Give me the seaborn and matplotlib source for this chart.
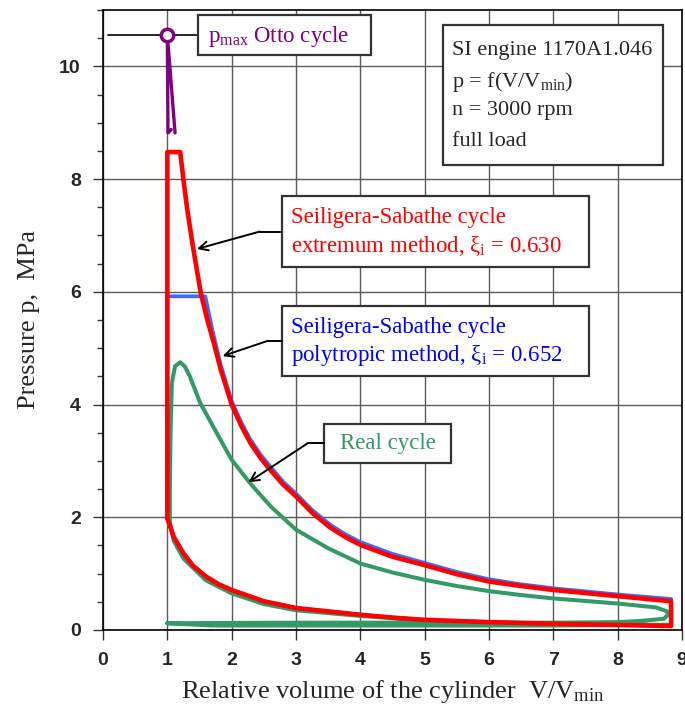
import matplotlib.pyplot as plt
import seaborn as sns
import numpy as np
from matplotlib.patches import Rectangle

# Style
sns.set_style("white")
plt.rcParams['font.family'] = ['Liberation Serif', 'DejaVu Serif']
plt.rcParams['mathtext.fontset'] = 'custom'
plt.rcParams['mathtext.rm'] = 'Liberation Serif'
plt.rcParams['mathtext.it'] = 'Liberation Serif:italic'

RED = '#ff0000'
BLUE = '#3d6bff'
GREEN = '#339966'
PURPLE = '#800080'

# Compression line shared by both Seiliger-Sabathe cycles (V from TDC to BDC)
comp_v = [1.0, 1.1, 1.25, 1.4, 1.6, 1.8, 2.0, 2.5, 3.0, 3.5, 4.0, 4.5, 5.0, 6.0, 7.0, 8.0, 8.83]
comp_p = [1.98, 1.65, 1.36, 1.14, 0.95, 0.81, 0.71, 0.51, 0.39, 0.33, 0.27, 0.22, 0.18, 0.14, 0.11, 0.09, 0.07]

# Seiliger-Sabathe, extremum method: heat addition + expansion + blowdown
ext_v = [1.0, 1.0, 1.2, 1.25, 1.31, 1.38, 1.45, 1.52, 1.62, 1.73, 1.83, 2.0, 2.15, 2.29, 2.45,
         2.6, 2.8, 3.0, 3.25, 3.53, 3.75, 4.0, 4.5, 5.0, 5.5, 6.0, 6.5, 7.0, 8.0, 8.83, 8.83]
ext_p = [1.98, 8.48, 8.48, 7.99, 7.46, 6.93, 6.45, 5.98, 5.51, 5.06, 4.62, 4.0, 3.62, 3.32, 3.05,
         2.84, 2.58, 2.37, 2.08, 1.82, 1.66, 1.51, 1.3, 1.15, 0.99, 0.86, 0.78, 0.71, 0.6, 0.51, 0.07]

# Seiliger-Sabathe, polytropic method
poly_v = [1.0, 1.0, 1.59, 1.7, 1.83, 2.0, 2.15, 2.29, 2.45, 2.6, 2.8, 3.0, 3.25, 3.53, 3.75, 4.0,
          4.5, 5.0, 5.5, 6.0, 6.5, 7.0, 8.0, 8.83, 8.83]
poly_p = [1.98, 5.92, 5.92, 5.32, 4.7, 4.06, 3.68, 3.38, 3.11, 2.9, 2.63, 2.42, 2.13, 1.87, 1.71,
          1.56, 1.35, 1.19, 1.03, 0.9, 0.81, 0.74, 0.63, 0.55, 0.07]

# Real cycle (intake, compression, combustion, expansion, exhaust)
real_v = [1.0, 1.7, 3.0, 5.0, 7.0, 8.8,
          8.0, 7.0, 6.0, 5.0, 4.0, 3.5, 3.0, 2.5, 2.0, 1.6, 1.25, 1.1, 1.04,
          1.04, 1.05, 1.07, 1.12, 1.2, 1.27, 1.35, 1.51, 1.77, 2.0, 2.29, 2.6, 3.0, 3.5,
          4.0, 4.5, 5.0, 5.5, 6.0, 6.5, 7.0, 8.0, 8.6, 8.77, 8.78, 8.72, 8.35, 8.0, 7.0, 5.0,
          3.0, 1.0]
real_p = [0.12, 0.08, 0.08, 0.08, 0.08, 0.09,
          0.1, 0.11, 0.13, 0.17, 0.25, 0.3, 0.35, 0.46, 0.65, 0.88, 1.27, 1.58, 1.9,
          2.6, 3.5, 4.38, 4.68, 4.75, 4.68, 4.5, 4.03, 3.49, 3.02, 2.6, 2.2, 1.78, 1.45,
          1.18, 1.02, 0.89, 0.78, 0.69, 0.62, 0.56, 0.47, 0.4, 0.33, 0.27, 0.2, 0.16, 0.14, 0.13, 0.13,
          0.13, 0.12]

# Otto cycle peak pressure
otto_v = [1.12, 1.0, 1.01, 1.06]
otto_p = [8.82, 10.55, 8.82, 8.88]
otto_peak_v = [1.0]
otto_peak_p = [10.55]

x_ticks = list(range(0, 10))
y_ticks = list(range(0, 11, 2))

fig = plt.figure(figsize=(6.85, 7.25), dpi=100)
ax = fig.add_axes([103 / 685, 95 / 725, 579 / 685, 620 / 725])

ax.grid(True, which='major', color='#5a5a5a', lw=1.0, zorder=0)
ax.set_axisbelow(True)

sns.lineplot(x=real_v, y=real_p, sort=False, estimator=None, color=GREEN, lw=2.9, ax=ax, zorder=3)
sns.lineplot(x=poly_v + comp_v[::-1], y=poly_p + comp_p[::-1], sort=False, estimator=None,
             color=BLUE, lw=2.7, ax=ax, zorder=4)
sns.lineplot(x=ext_v + comp_v[::-1], y=ext_p + comp_p[::-1], sort=False, estimator=None,
             color=RED, lw=3.3, ax=ax, zorder=5)

# Otto peak with leader line to its label
ax.plot([0.08, 1.48], [10.55, 10.55], color='black', lw=1.2, zorder=6)
sns.lineplot(x=otto_v, y=otto_p, sort=False, estimator=None, color=PURPLE, lw=2.4, ax=ax, zorder=7)
sns.scatterplot(x=otto_peak_v, y=otto_peak_p, s=80, color='white', edgecolor=PURPLE,
                linewidth=2.5, ax=ax, zorder=8)

ax.set_xlim(0, 9)
ax.set_ylim(0, 11)
ax.set_xticks(x_ticks)
ax.set_yticks(y_ticks)
ax.set_yticks(np.arange(0, 11.01, 0.5), minor=True)
ax.tick_params(which='major', direction='out', length=7, width=1, color='#333333', pad=9,
               left=True, bottom=True)
ax.tick_params(which='minor', direction='out', length=4, width=1, color='#333333', left=True)
for lab in ax.get_xticklabels() + ax.get_yticklabels():
    lab.set_fontfamily('Liberation Sans')
    lab.set_fontweight('bold')
    lab.set_fontsize(14)
for s in ax.spines.values():
    s.set_color('black')
    s.set_linewidth(1.2)

ax.set_xlabel('Relative volume of the cylinder  V/V$_\\mathrm{min}$', fontsize=19, labelpad=6)
ax.set_ylabel('Pressure p,  MPa', fontsize=19, labelpad=14)


def box(x0, x1, y0, y1):
    ax.add_patch(Rectangle((x0, y0), x1 - x0, y1 - y0, fc='white', ec='#333333',
                           lw=1.6, zorder=9))


def leader(x_box, x_bend, y, head):
    ax.plot([x_box, x_bend], [y, y], color='black', lw=1.4, zorder=9)
    ax.annotate('', xy=head, xytext=(x_bend, y),
                arrowprops=dict(arrowstyle='->', color='black', lw=1.4,
                                shrinkA=0, shrinkB=0, mutation_scale=16), zorder=9)


# p_max Otto label
box(1.48, 4.17, 10.21, 10.91)
ax.text(1.63, 10.53, 'p$_\\mathrm{max}$ Otto cycle', color=PURPLE, fontsize=16.5,
        va='center', ha='left', zorder=10)

# Engine info
box(5.28, 8.70, 8.25, 10.73)
info = ['SI engine 1170A1.046', 'p = f(V/V$_\\mathrm{min}$)', 'n = 3000 rpm', 'full load']
for line, yy in zip(info, [10.29, 9.72, 9.21, 8.67]):
    ax.text(5.42, yy, line, fontsize=16, va='center', ha='left', zorder=10)

# Extremum method label
box(2.78, 7.56, 6.44, 7.70)
ax.text(2.93, 7.32, 'Seiligera-Sabathe cycle', color=RED, fontsize=16.5, va='center', zorder=10)
ax.text(2.93, 6.81, 'extremum method, ξ$_\\mathrm{i}$ = 0.630', color=RED, fontsize=16.5,
        va='center', zorder=10)
leader(2.78, 2.44, 7.07, (1.46, 6.76))

# Polytropic method label
box(2.78, 7.56, 4.50, 5.75)
ax.text(2.93, 5.36, 'Seiligera-Sabathe cycle', color='#0000ff', fontsize=16.5, va='center', zorder=10)
ax.text(2.93, 4.87, 'polytropic method, ξ$_\\mathrm{i}$ = 0.652', color='#0000ff', fontsize=16.5,
        va='center', zorder=10)
leader(2.78, 2.56, 5.13, (1.86, 4.86))

# Real cycle label
box(3.44, 5.41, 2.96, 3.66)
ax.text(4.43, 3.31, 'Real cycle', color=GREEN, fontsize=16.5, va='center', ha='center', zorder=10)
leader(3.44, 3.19, 3.32, (2.26, 2.62))

plt.savefig('out.png', dpi=100)
plt.close()
